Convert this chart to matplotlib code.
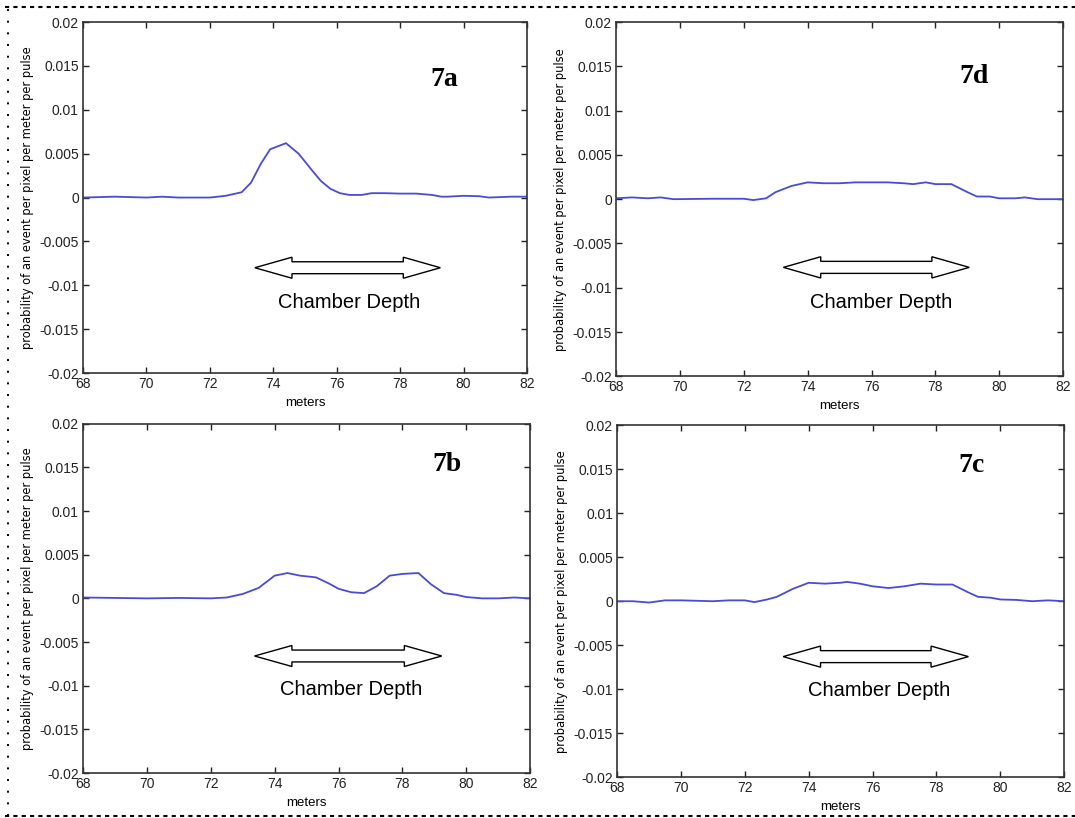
import numpy as np
import matplotlib.pyplot as plt
from matplotlib.lines import Line2D
from matplotlib.patches import Polygon

# panel 7a
x_7a = [68, 69, 70, 70.5, 71, 72, 72.5, 73, 73.3, 73.6, 73.9, 74.4, 74.8, 75.2,
        75.5, 75.8, 76.1, 76.4, 76.8, 77.1, 77.5, 78, 78.5, 79, 79.3, 79.5, 80,
        80.5, 80.8, 81.5, 82]
y_7a = [0, 0.0001, 0, 0.0001, 0, 0, 0.0002, 0.0006, 0.0017, 0.0038, 0.0055,
        0.0062, 0.005, 0.0032, 0.0019, 0.001, 0.0005, 0.0003, 0.0003, 0.0005,
        0.0005, 0.00045, 0.00045, 0.0003, 0.0001, 0.0001, 0.0002, 0.00015, 0,
        0.0001, 0.0001]

# panel 7d
x_7d = [68, 68.5, 69, 69.4, 69.8, 71, 72, 72.3, 72.7, 73, 73.5, 74, 74.5, 75,
        75.5, 76, 76.5, 77, 77.3, 77.7, 78, 78.5, 79, 79.3, 79.7, 80, 80.5,
        80.8, 81.2, 82]
y_7d = [0.0001, 0.0002, 0.0001, 0.0002, 0, 0.00005, 0.00005, -0.0001, 0.0001,
        0.0008, 0.0015, 0.0019, 0.0018, 0.0018, 0.0019, 0.0019, 0.0019, 0.0018,
        0.0017, 0.0019, 0.0017, 0.0017, 0.0008, 0.0003, 0.0003, 0.0001, 0.0001,
        0.0002, 0, 0]

# panel 7b
x_7b = [68, 69, 70, 71, 72, 72.5, 73, 73.5, 74, 74.4, 74.8, 75.3, 75.7, 76,
        76.4, 76.8, 77.2, 77.6, 78, 78.5, 78.9, 79.3, 79.7, 80, 80.5, 81, 81.5, 82]
y_7b = [0.0001, 0.00005, 0, 0.00005, 0, 0.0001, 0.0005, 0.0012, 0.0026, 0.0029,
        0.0026, 0.0024, 0.0017, 0.0011, 0.0007, 0.0006, 0.0014, 0.0026, 0.0028,
        0.0029, 0.0016, 0.0006, 0.0004, 0.00015, 0, 0, 0.0001, 0]

# panel 7c
x_7c = [68, 68.5, 69, 69.5, 70, 71, 71.5, 72, 72.3, 72.7, 73, 73.5, 74, 74.5,
        75, 75.2, 75.6, 76, 76.5, 77, 77.5, 78, 78.5, 79, 79.3, 79.7, 80, 80.5,
        81, 81.5, 82]
y_7c = [0, 0, -0.00015, 0.0001, 0.0001, 0, 0.0001, 0.0001, -0.0001, 0.0002,
        0.0005, 0.0014, 0.0021, 0.002, 0.0021, 0.0022, 0.002, 0.0017, 0.0015,
        0.0017, 0.002, 0.0019, 0.0019, 0.001, 0.0005, 0.0004, 0.0002, 0.00015,
        0, 0.0001, 0]

labels = ['7a', '7d', '7b', '7c']
xs = [x_7a, x_7d, x_7b, x_7c]
ys = [y_7a, y_7d, y_7b, y_7c]

yticks = [-0.02, -0.015, -0.01, -0.005, 0, 0.005, 0.01, 0.015, 0.02]
ytick_labels = ['-0.02', '-0.015', '-0.01', '-0.005', '0', '0.005', '0.01', '0.015', '0.02']
xticks = [68, 70, 72, 74, 76, 78, 80, 82]

# where things sit in each panel
rects = [[0.0772, 0.544, 0.413, 0.429],
         [0.573, 0.540, 0.416, 0.433],
         [0.0772, 0.055, 0.416, 0.427],
         [0.574, 0.050, 0.416, 0.430]]
label_pos = [(79.4, 0.0135), (79.2, 0.0138), (79.4, 0.0153), (79.1, 0.0154)]
arrow_pos = [(73.42, 79.27, -0.0080), (73.24, 79.06, -0.0077),
             (73.37, 79.23, -0.0066), (73.2, 79.0, -0.0063)]
depth_pos = [(76.4, -0.0120), (76.3, -0.0117), (76.4, -0.0104), (76.2, -0.0101)]


def double_arrow(ax, x0, x1, y, shaft=0.00068, head=0.0012, head_len=1.17):
    # hollow two-headed arrow, outline only
    pts = [(x0, y), (x0 + head_len, y + head), (x0 + head_len, y + shaft),
           (x1 - head_len, y + shaft), (x1 - head_len, y + head), (x1, y),
           (x1 - head_len, y - head), (x1 - head_len, y - shaft),
           (x0 + head_len, y - shaft), (x0 + head_len, y - head)]
    ax.add_patch(Polygon(pts, closed=True, facecolor='white',
                         edgecolor='black', linewidth=1.0, zorder=3))


fig = plt.figure(figsize=(10.75, 8.18), dpi=100)

for i in range(4):
    ax = fig.add_axes(rects[i])
    ax.plot(xs[i], ys[i], color='#4a4ad8', linewidth=1.3)
    ax.set_xlim(68, 82)
    ax.set_ylim(-0.02, 0.02)
    ax.set_xticks(xticks)
    ax.set_xticklabels([str(t) for t in xticks])
    ax.set_yticks(yticks)
    ax.set_yticklabels(ytick_labels)
    ax.tick_params(direction='in', top=True, right=True, length=4, width=1,
                   labelsize=10, pad=3, colors='#222222')
    for lab in ax.get_xticklabels() + ax.get_yticklabels():
        lab.set_family('Liberation Sans')
    for s in ax.spines.values():
        s.set_color('#333333')
        s.set_linewidth(1.2)
    ax.set_xlabel('meters', fontsize=9.5, family='Liberation Sans', labelpad=4)
    ax.set_ylabel('probability of an event per pixel per meter per pulse',
                  fontsize=8.3, labelpad=4)
    ax.text(label_pos[i][0], label_pos[i][1], labels[i], fontsize=20,
            fontweight='bold', family='Liberation Serif', ha='center', va='center')
    double_arrow(ax, arrow_pos[i][0], arrow_pos[i][1], arrow_pos[i][2])
    ax.text(depth_pos[i][0], depth_pos[i][1], 'Chamber Depth', fontsize=14.5,
            family='Liberation Sans', ha='center', va='center')

# page-style border lines
fig.add_artist(Line2D([0.005, 1.0], [0.9914, 0.9914], color='black',
                      linewidth=1.5, linestyle=(0, (2, 2))))
fig.add_artist(Line2D([0.005, 1.0], [0.002, 0.002], color='black',
                      linewidth=1.5, linestyle=(0, (2, 2))))
fig.add_artist(Line2D([0.0075, 0.0075], [0.002, 0.9914], color='black',
                      linewidth=1.4, linestyle=(0, (1, 5))))

fig.savefig('out.png', dpi=100)
